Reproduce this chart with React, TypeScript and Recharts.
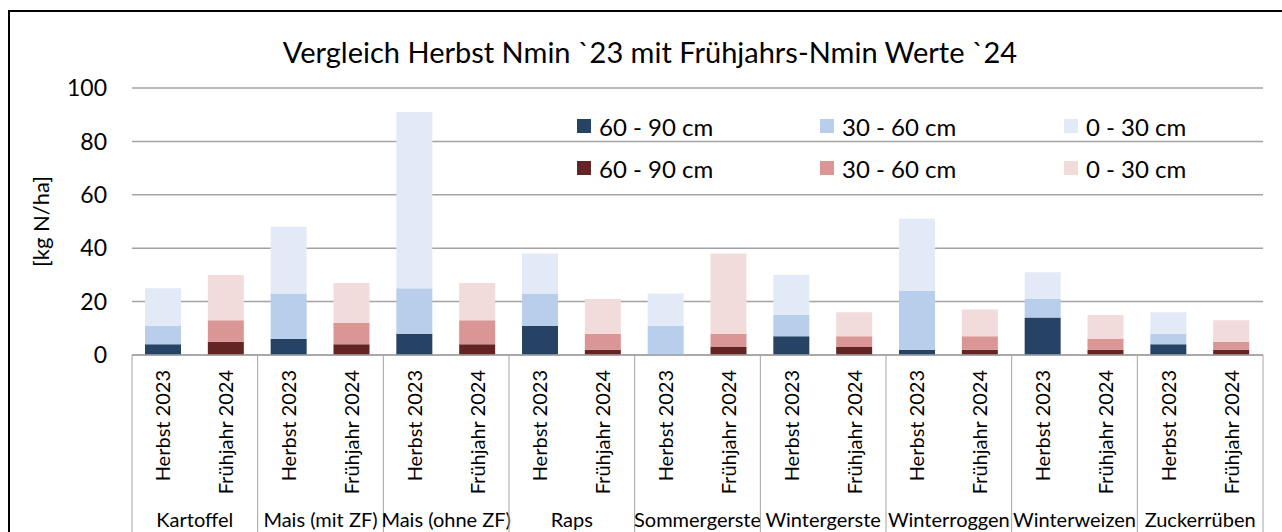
import { BarChart, Bar, XAxis, YAxis, CartesianGrid } from 'recharts'

const crops = [
  'Kartoffel',
  'Mais (mit ZF)',
  'Mais (ohne ZF)',
  'Raps',
  'Sommergerste',
  'Wintergerste',
  'Winterroggen',
  'Winterweizen',
  'Zuckerrüben',
]
const periods = ['Herbst 2023', 'Frühjahr 2024']

// Herbst 2023 (kg N/ha per layer)
const herbst60_90 = [4, 6, 8, 11, 0, 7, 2, 14, 4]
const herbst30_60 = [7, 17, 17, 12, 11, 8, 22, 7, 4]
const herbst0_30 = [14, 25, 66, 15, 12, 15, 27, 10, 8]

// Frühjahr 2024
const fj60_90 = [5, 4, 4, 2, 3, 3, 2, 2, 2]
const fj30_60 = [8, 8, 9, 6, 5, 4, 5, 4, 3]
const fj0_30 = [17, 15, 14, 13, 30, 9, 10, 9, 8]

const yTicks = [0, 20, 40, 60, 80, 100]

const series = [
  { key: 'h90', name: '60 - 90 cm', color: '#264365' },
  { key: 'h60', name: '30 - 60 cm', color: '#b8ceeb' },
  { key: 'h30', name: '0 - 30 cm', color: '#e2eaf8' },
  { key: 'f90', name: '60 - 90 cm', color: '#632523' },
  { key: 'f60', name: '30 - 60 cm', color: '#d99694' },
  { key: 'f30', name: '0 - 30 cm', color: '#f2dcdb' },
]

const rows = crops.flatMap((crop, i) => [
  { crop, label: periods[0], h90: herbst60_90[i], h60: herbst30_60[i], h30: herbst0_30[i] },
  { crop, label: periods[1], f90: fj60_90[i], f60: fj30_60[i], f30: fj0_30[i] },
])

const FONT = 'Lato, "Open Sans", sans-serif'
const GRID = '#a3a3a3'

function PeriodTick(props: any) {
  const { x, y, payload, width, visibleTicksCount } = props
  const idx = payload.index ?? props.index
  const slot = width / (visibleTicksCount || rows.length)
  const isFirst = idx % 2 === 0
  const isLast = idx === rows.length - 1
  return (
    <g>
      <text
        x={x}
        y={y + 15}
        dy="0.35em"
        transform={`rotate(-90 ${x} ${y + 15})`}
        textAnchor="end"
        fontSize={20}
        fontFamily={FONT}
        fill="#000"
      >
        {payload.value}
      </text>
      {isFirst && (
        <>
          <line x1={x - slot / 2} x2={x - slot / 2} y1={y} y2={y + 220} stroke={GRID} strokeWidth={1} />
          <text x={x + slot / 2} y={y + 172} textAnchor="middle" fontSize={20} fontFamily={FONT} fill="#000">
            {rows[idx].crop}
          </text>
        </>
      )}
      {isLast && (
        <line x1={x + slot / 2} x2={x + slot / 2} y1={y} y2={y + 220} stroke={GRID} strokeWidth={1} />
      )}
    </g>
  )
}

function LegendBox() {
  return (
    <div
      style={{
        position: 'absolute',
        left: 567,
        top: 93,
        display: 'grid',
        gridTemplateColumns: '243px 244px 200px',
        gridAutoRows: '42px',
        fontFamily: FONT,
        fontSize: 24,
        color: '#000',
        zIndex: 2,
      }}
    >
      {series.map((s) => (
        <div key={s.key} style={{ display: 'flex', alignItems: 'center' }}>
          <span style={{ width: 14, height: 14, background: s.color, marginRight: 8, display: 'inline-block' }} />
          <span>{s.name}</span>
        </div>
      ))}
    </div>
  )
}

export default function App() {
  return (
    <div
      style={{
        position: 'fixed',
        left: 8,
        top: 10,
        width: 1300,
        height: 560,
        border: '2px solid #000',
        boxSizing: 'border-box',
        background: '#fff',
      }}
    >
      <div
        style={{
          position: 'absolute',
          left: 0,
          top: 23,
          width: 1280,
          textAlign: 'center',
          fontFamily: FONT,
          fontSize: 29,
          lineHeight: '34px',
          color: '#000',
        }}
      >
        Vergleich Herbst Nmin `23 mit Frühjahrs-Nmin Werte `24
      </div>
      <BarChart
        width={1276}
        height={540}
        data={rows}
        margin={{ top: 76, right: 23, bottom: 0, left: 0 }}
        barSize={36}
      >
        <CartesianGrid vertical={false} stroke={GRID} strokeWidth={1.5} />
        <XAxis
          dataKey="label"
          type="category"
          interval={0}
          height={197}
          tickLine={false}
          tickSize={0}
          tickMargin={0}
          axisLine={{ stroke: GRID, strokeWidth: 1.5 }}
          tick={<PeriodTick />}
        />
        <YAxis
          width={122}
          domain={[0, 100]}
          ticks={yTicks}
          axisLine={false}
          tickLine={false}
          tickMargin={19}
          tick={{ fontSize: 23, fill: '#000', fontFamily: FONT }}
          label={{
            content: ({ viewBox }: any) => {
              const cx = viewBox.x + 31
              const cy = viewBox.y + viewBox.height / 2
              return (
                <text
                  x={cx}
                  y={cy}
                  dy="0.35em"
                  transform={`rotate(-90 ${cx} ${cy})`}
                  textAnchor="middle"
                  fontSize={22}
                  fontFamily={FONT}
                  fill="#000"
                >
                  [kg N/ha]
                </text>
              )
            },
          }}
        />
        {series.map((s) => (
          <Bar key={s.key} dataKey={s.key} name={s.name} stackId="n" fill={s.color} isAnimationActive={false} />
        ))}
      </BarChart>
      <LegendBox />
    </div>
  )
}
